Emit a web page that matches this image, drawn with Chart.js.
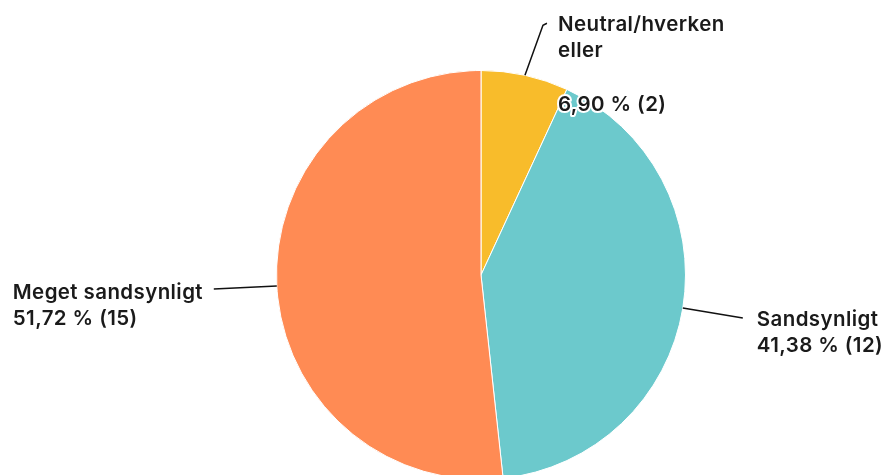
<!DOCTYPE html>
<html>
<head>
<meta charset="utf-8">
<script src="https://cdn.jsdelivr.net/npm/chart.js@4/dist/chart.umd.min.js"></script>
<style>
  html, body { margin: 0; padding: 0; background: #fff; overflow: hidden; }
  #wrap { position: relative; width: 884px; height: 480px; }
</style>
</head>
<body>
<div id="wrap"><canvas id="pie"></canvas></div>
<script>
const answerLabels = [['Neutral/hverken', 'eller'], ['Sandsynligt'], ['Meget sandsynligt']];
const answerCounts = [2, 12, 15];
const answerPercents = ['6,90 %', '41,38 %', '51,72 %'];
const sliceColors = ['#F8BC2B', '#6CC9CC', '#FF8B54'];

// where each label sits, relative to the slice anchor on the rim
const labelLayout = [
    { line: [[0, 0], [18, -50], [22, -52]], text: [33, -50], extra: [33, 30] },
    { line: [[0, 0], [30, 5], [60, 10]], text: [74, 12] },
    { line: [[0, 0], [-63, 3]], text: [-264, 7] }
];

const fontSpec = '600 20.5px Inter, "Noto Sans", sans-serif';

const labelPlugin = {
    id: 'sliceLabels',
    afterDraw(chart) {
        const ctx = chart.ctx;
        const meta = chart.getDatasetMeta(0);
        ctx.save();
        ctx.font = fontSpec;
        ctx.letterSpacing = '0.4px';
        ctx.textBaseline = 'middle';
        ctx.textAlign = 'left';
        meta.data.forEach((arc, i) => {
            const p = arc.getProps(['x', 'y', 'startAngle', 'endAngle', 'outerRadius'], true);
            const mid = (p.startAngle + p.endAngle) / 2;
            const ax = p.x + Math.cos(mid) * p.outerRadius;
            const ay = p.y + Math.sin(mid) * p.outerRadius;
            const lay = labelLayout[i];

            ctx.strokeStyle = '#111';
            ctx.lineWidth = 1.5;
            ctx.beginPath();
            lay.line.forEach((pt, k) => {
                if (k === 0) ctx.moveTo(ax + pt[0], ay + pt[1]);
                else ctx.lineTo(ax + pt[0], ay + pt[1]);
            });
            ctx.stroke();

            ctx.fillStyle = '#1a1a1a';
            const tx = ax + lay.text[0];
            let ty = ay + lay.text[1];
            answerLabels[i].forEach(line => {
                ctx.fillText(line, tx, ty);
                ty += 26;
            });
            const valueText = answerPercents[i] + ' (' + answerCounts[i] + ')';
            if (lay.extra) {
                const ex = ax + lay.extra[0], ey = ay + lay.extra[1];
                ctx.strokeStyle = '#fff';
                ctx.lineWidth = 4;
                ctx.lineJoin = 'round';
                ctx.strokeText(valueText, ex, ey);
                ctx.fillText(valueText, ex, ey);
            } else {
                ctx.fillText(valueText, tx, ty);
            }
        });
        ctx.restore();
    }
};

new Chart(document.getElementById('pie'), {
    type: 'pie',
    data: {
        labels: answerLabels.map(l => l.join(' ')),
        datasets: [{
            data: answerCounts,
            backgroundColor: sliceColors,
            borderColor: '#fff',
            borderWidth: 1
        }]
    },
    options: {
        responsive: true,
        maintainAspectRatio: false,
        animation: false,
        layout: { padding: { top: 70, bottom: 0, left: 78, right: 0 } },
        plugins: {
            legend: { display: false },
            tooltip: { enabled: false }
        }
    },
    plugins: [labelPlugin]
});
</script>
</body>
</html>
